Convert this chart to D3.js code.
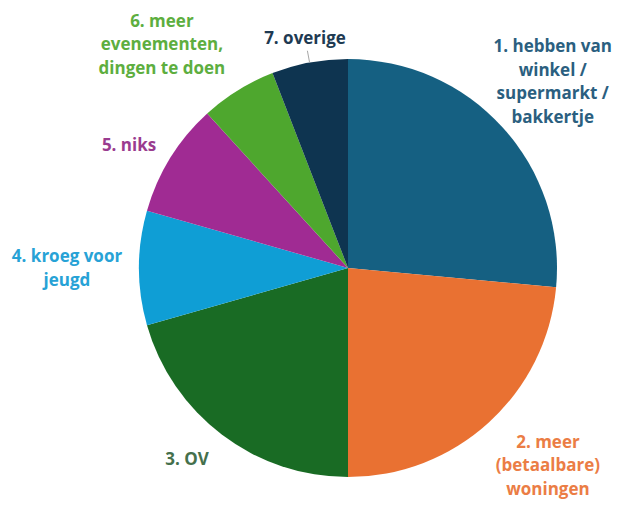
<!DOCTYPE html>
<html>
<head>
<meta charset="utf-8">
<script src="https://cdn.jsdelivr.net/npm/d3@7"></script>
<style>
  body { margin: 0; background: #fff; }
  svg text { font-family: "Open Sans", sans-serif; font-weight: 700; }
</style>
</head>
<body>
<div id="chart"></div>
<script>
// data
const categories = [
    ["1. hebben van", "winkel /", "supermarkt /", "bakkertje"],
    ["2. meer", "(betaalbare)", "woningen"],
    ["3. OV"],
    ["4. kroeg voor", "jeugd"],
    ["5. niks"],
    ["6. meer", "evenementen,", "dingen te doen"],
    ["7. overige"]
];
const counts = [9, 8, 7, 3, 3, 2, 2];

const sliceColors = ["#156082", "#E97132", "#196B24", "#0F9ED5", "#A02B93", "#4EA72E", "#0E3450"];
const labelColors = ["#2B5F80", "#EB7D45", "#45704C", "#27A2D6", "#9A3C8F", "#5DAE3F", "#1E3A52"];

// label placement (radius from centre, angle tweak in degrees)
const labelR = [277, 281, 250, 281, 251, 291, 234];
const labelDa = [0, -3, 3, 0, -2.5, -8, 0];

window.onload = function () {
    const width = 623, height = 506;
    const cx = 348, cy = 268, radius = 209;
    const lineH = 23.5;

    const svg = d3.select("#chart")
        .append("svg")
        .attr("width", width)
        .attr("height", height);

    const g = svg.append("g")
        .attr("transform", `translate(${cx},${cy})`);

    const pie = d3.pie().sort(null).value(d => d);
    const arcs = pie(counts);

    const arc = d3.arc().innerRadius(0).outerRadius(radius);

    g.selectAll("path.slice")
        .data(arcs)
        .enter().append("path")
        .attr("class", "slice")
        .attr("d", arc)
        .attr("fill", (d, i) => sliceColors[i]);

    function polar(a, r) {
        return [Math.sin(a) * r, -Math.cos(a) * r];
    }

    // leader line for the last slice
    const last = arcs[arcs.length - 1];
    const lm = (last.startAngle + last.endAngle) / 2;
    const p1 = polar(lm, radius), p2 = polar(lm, radius + 12);
    g.append("line")
        .attr("x1", p1[0]).attr("y1", p1[1])
        .attr("x2", p2[0]).attr("y2", p2[1])
        .attr("stroke", "#a6a6a6")
        .attr("stroke-width", 1);

    // labels
    arcs.forEach(function (d, i) {
        const mid = (d.startAngle + d.endAngle) / 2 + labelDa[i] * Math.PI / 180;
        const pos = polar(mid, labelR[i]);
        const lines = categories[i];
        const t = g.append("text")
            .attr("text-anchor", "middle")
            .attr("font-size", 17)
            .attr("fill", labelColors[i]);
        lines.forEach(function (line, j) {
            t.append("tspan")
                .attr("x", pos[0])
                .attr("y", pos[1] + (j - (lines.length - 1) / 2) * lineH)
                .attr("dy", "0.35em")
                .text(line);
        });
    });
};
</script>
</body>
</html>
